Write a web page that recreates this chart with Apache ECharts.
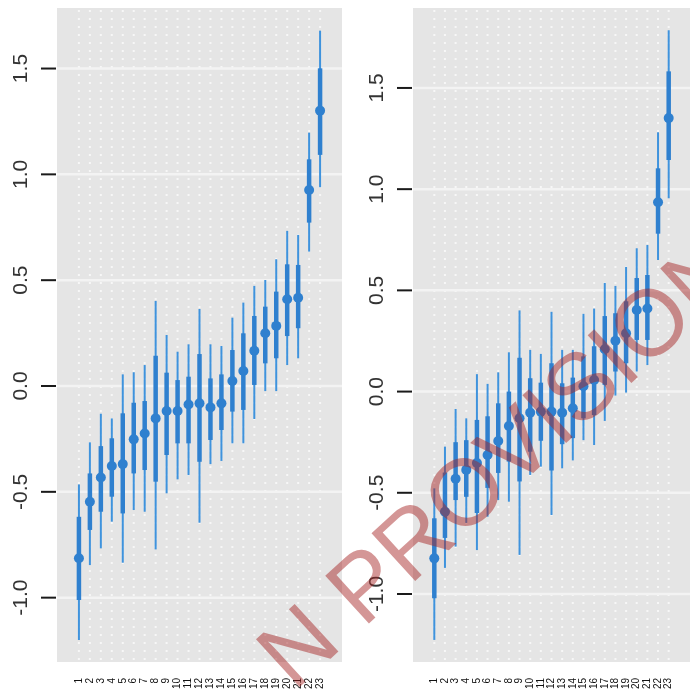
<!DOCTYPE html>
<html>
<head>
<meta charset="utf-8">
<script src="https://cdn.jsdelivr.net/npm/echarts@6/dist/echarts.min.js"></script>
<style>
html,body{margin:0;padding:0;background:#fff;}
#chart{width:690px;height:693px;}
</style>
</head>
<body>
<div id="chart"></div>
<script>
// ---- data ----
const categories = [1,2,3,4,5,6,7,8,9,10,11,12,13,14,15,16,17,18,19,20,21,22,23];
const yTicks = [-1.0, -0.5, 0.0, 0.5, 1.0, 1.5];

// left panel
const meanA   = [-0.814,-0.547,-0.432,-0.378,-0.369,-0.252,-0.224,-0.153,-0.118,-0.118,-0.087,-0.082,-0.101,-0.082,0.024,0.071,0.167,0.249,0.284,0.410,0.417,0.926,1.301];
const innerLoA= [-1.011,-0.680,-0.594,-0.523,-0.602,-0.413,-0.397,-0.452,-0.326,-0.271,-0.271,-0.358,-0.255,-0.208,-0.121,-0.113,0.005,0.107,0.131,0.236,0.273,0.772,1.092];
const innerHiA= [-0.618,-0.413,-0.284,-0.247,-0.129,-0.079,-0.071,0.143,0.063,0.028,0.044,0.151,0.036,0.055,0.170,0.249,0.331,0.375,0.446,0.575,0.572,1.071,1.501];
const outerLoA= [-1.200,-0.846,-0.767,-0.641,-0.835,-0.586,-0.594,-0.772,-0.507,-0.441,-0.421,-0.646,-0.369,-0.354,-0.271,-0.271,-0.156,-0.024,-0.024,0.099,0.131,0.635,0.939];
const outerHiA= [-0.465,-0.266,-0.131,-0.153,0.055,0.065,0.099,0.402,0.241,0.162,0.197,0.364,0.197,0.189,0.323,0.394,0.473,0.501,0.599,0.733,0.714,1.197,1.679];

// right panel
const meanB   = [-0.824,-0.594,-0.431,-0.387,-0.353,-0.313,-0.244,-0.170,-0.132,-0.104,-0.099,-0.099,-0.104,-0.082,0.026,0.057,0.209,0.251,0.288,0.403,0.410,0.935,1.351];
const innerLoB= [-1.021,-0.723,-0.536,-0.520,-0.600,-0.476,-0.402,-0.346,-0.444,-0.297,-0.243,-0.390,-0.260,-0.230,-0.132,-0.116,0.033,0.099,0.140,0.255,0.255,0.780,1.144];
const innerHiB= [-0.626,-0.400,-0.250,-0.240,-0.140,-0.122,-0.058,0.000,0.167,0.066,0.044,0.140,0.041,0.069,0.174,0.224,0.373,0.387,0.446,0.561,0.576,1.103,1.582];
const outerLoB= [-1.227,-0.871,-0.766,-0.649,-0.783,-0.618,-0.536,-0.544,-0.807,-0.412,-0.371,-0.610,-0.379,-0.340,-0.240,-0.264,-0.145,-0.020,-0.005,0.099,0.131,0.650,0.955];
const outerHiB= [-0.478,-0.272,-0.086,-0.132,0.086,0.038,0.095,0.194,0.401,0.206,0.186,0.394,0.206,0.206,0.384,0.410,0.537,0.522,0.616,0.708,0.724,1.281,1.785];

const watermarkText = 'N PROVISIONAL';

// ---- styles ----
const BG = '#e5e5e5';
const THIN = '#3f93dd';
const THICK = '#2f80cf';
const FONT = 'Liberation Sans, Arial, sans-serif';

function rows(mean, iLo, iHi, oLo, oHi){
  return categories.map((c,i)=>[c, mean[i], iLo[i], iHi[i], oLo[i], oHi[i]]);
}

function renderBars(params, api){
  const x = api.value(0);
  const pm = api.coord([x, api.value(1)]);
  const pil = api.coord([x, api.value(2)]);
  const pih = api.coord([x, api.value(3)]);
  const pol = api.coord([x, api.value(4)]);
  const poh = api.coord([x, api.value(5)]);
  return {type:'group', children:[
    {type:'line', shape:{x1:pol[0],y1:pol[1],x2:poh[0],y2:poh[1]}, style:{stroke:THIN, lineWidth:2}},
    {type:'line', shape:{x1:pil[0],y1:pil[1],x2:pih[0],y2:pih[1]}, style:{stroke:THICK, lineWidth:4.5}},
    {type:'circle', shape:{cx:pm[0], cy:pm[1], r:5}, style:{fill:THICK}}
  ]};
}

function renderVDots(params, api){
  const cs = params.coordSys;
  const p = api.coord([api.value(0), 0]);
  return {type:'line', shape:{x1:p[0], y1:cs.y+2, x2:p[0], y2:cs.y+cs.height}, style:{stroke:'#f7f7f7', lineWidth:2, lineDash:[2,6]}};
}

function renderHLine(params, api){
  const cs = params.coordSys;
  const p = api.coord([0, api.value(0)]);
  return {type:'group', children:[
    {type:'line', shape:{x1:cs.x, y1:p[1], x2:cs.x+cs.width, y2:p[1]}, style:{stroke:'#f3f3f3', lineWidth:2.5}},
    {type:'line', shape:{x1:cs.x-16, y1:p[1], x2:cs.x-1, y2:p[1]}, style:{stroke:'#1a1a1a', lineWidth:2}}
  ]};
}

function yAxisCfg(idx, min, max){
  return {
    type:'value', gridIndex:idx, min:min, max:max,
    axisLine:{show:false},
    splitLine:{show:false},
    axisTick:{show:false},
    axisLabel:{customValues:yTicks, rotate:90, fontSize:21, color:'#333', fontFamily:FONT, margin:25,
      formatter:(v)=>Number(v).toFixed(1)}
  };
}
function xAxisCfg(idx){
  return {
    type:'value', gridIndex:idx, min:-1, max:25,
    axisLine:{show:false}, splitLine:{show:false},
    axisTick:{show:false},
    axisLabel:{customValues:categories, rotate:90, fontSize:10, color:'#111', fontFamily:FONT, margin:16,
      formatter:(v)=>String(v)}
  };
}

const chart = echarts.init(document.getElementById('chart'), null, {renderer:'canvas'});
const option = {
  animation:false,
  backgroundColor:'#ffffff',
  grid:[
    {left:57, top:8, width:285, height:654, show:true, backgroundColor:BG, borderWidth:0},
    {left:413, top:8, width:287, height:654, show:true, backgroundColor:BG, borderWidth:0}
  ],
  xAxis:[xAxisCfg(0), xAxisCfg(1)],
  yAxis:[yAxisCfg(0, -1.304, 1.786), yAxisCfg(1, -1.336, 1.895)],
  series:[
    {type:'custom', xAxisIndex:0, yAxisIndex:0, data:categories.map(c=>[c]), renderItem:renderVDots, silent:true, z:1},
    {type:'custom', xAxisIndex:0, yAxisIndex:0, data:yTicks.map(v=>[v]), renderItem:renderHLine, silent:true, z:1, clip:false, encode:{y:0}},
    {type:'custom', xAxisIndex:0, yAxisIndex:0, data:rows(meanA, innerLoA, innerHiA, outerLoA, outerHiA), renderItem:renderBars, z:2},
    {type:'custom', xAxisIndex:1, yAxisIndex:1, data:categories.map(c=>[c]), renderItem:renderVDots, silent:true, z:1},
    {type:'custom', xAxisIndex:1, yAxisIndex:1, data:yTicks.map(v=>[v]), renderItem:renderHLine, silent:true, z:1, clip:false, encode:{y:0}},
    {type:'custom', xAxisIndex:1, yAxisIndex:1, data:rows(meanB, innerLoB, innerHiB, outerLoB, outerHiB), renderItem:renderBars, z:2}
  ],
  graphic:[
    {type:'text', x:546, y:426, rotation:42.5*Math.PI/180, z:100, silent:true,
     style:{text:watermarkText, fontSize:94, fontFamily:FONT, fill:'rgba(165,35,35,0.48)', align:'center', verticalAlign:'middle'}}
  ]
};
chart.setOption(option);
</script>
</body>
</html>
